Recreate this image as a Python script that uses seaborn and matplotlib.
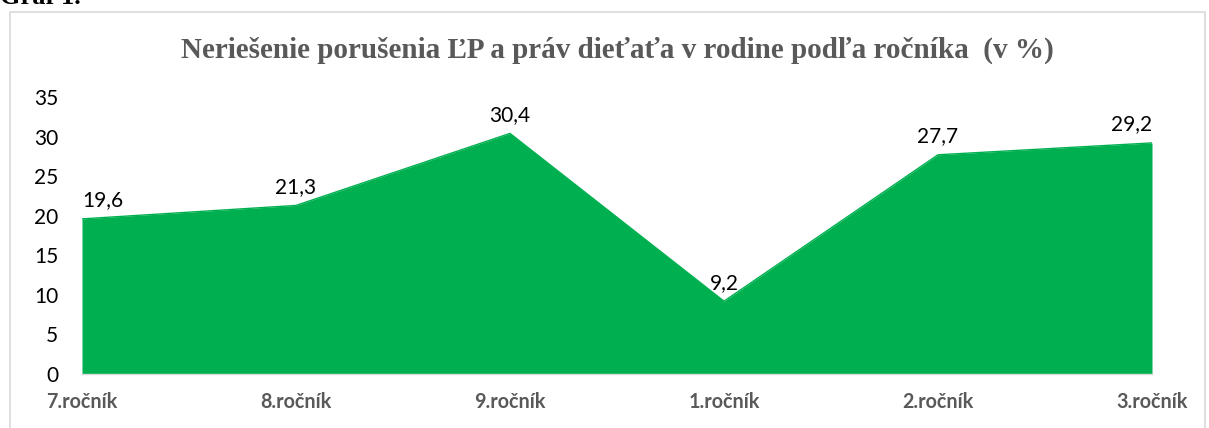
import matplotlib
matplotlib.use('Agg')
import matplotlib.pyplot as plt
import seaborn as sns
import numpy as np
import pandas as pd
from matplotlib.patches import Rectangle

# data
rocniky = ['7.ročník', '8.ročník', '9.ročník', '1.ročník', '2.ročník', '3.ročník']
hodnoty = [19.6, 21.3, 30.4, 9.2, 27.7, 29.2]
y_ticks = [0, 5, 10, 15, 20, 25, 30, 35]

title = 'Neriešenie porušenia ĽP a práv dieťaťa v rodine podľa ročníka  (v %)'

sns.set_theme(style='white')
plt.rcParams['font.family'] = ['Lato', 'DejaVu Sans']

df = pd.DataFrame({'rocnik': rocniky, 'hodnota': hodnoty})
df['pos'] = np.arange(len(df))

green = '#00B050'
gray_txt = '#595959'

fig = plt.figure(figsize=(12.09, 4.28), dpi=100)
ax = fig.add_axes([82 / 1209, 54 / 428, (1152 - 82) / 1209, (374 - 97) / 428])

ax.fill_between(df['pos'], df['hodnota'], 0, color=green, linewidth=0)
sns.lineplot(data=df, x='pos', y='hodnota', color=green, linewidth=1, ax=ax)

# data labels, the outer ones kept inside the plot area like Excel does
n = len(df)
for i, (x, v) in enumerate(zip(df['pos'], df['hodnota'])):
    ha = 'left' if i == 0 else ('right' if i == n - 1 else 'center')
    ax.annotate(f'{v:.1f}'.replace('.', ','), (x, v), xytext=(0, 6),
                textcoords='offset points', ha=ha, va='bottom',
                fontsize=15, color='black')

ax.set_xlim(0, n - 1)
ax.set_ylim(0, 35)
ax.set_yticks(y_ticks)
ax.set_yticklabels([str(t) for t in y_ticks], fontsize=15, color='black')
ax.set_xticks(df['pos'])
ax.set_xticklabels(rocniky, fontsize=14.2, fontweight='bold', color=gray_txt)
ax.tick_params(axis='x', length=6, width=1, color='#d9d9d9', pad=7, direction='out')
ax.tick_params(axis='y', length=0, pad=17)
ax.set_xlabel('')
ax.set_ylabel('')
for s in ['top', 'right', 'left']:
    ax.spines[s].set_visible(False)
ax.spines['bottom'].set_color('#d9d9d9')
ax.spines['bottom'].set_linewidth(1)

# chart area border
fig.patches.append(Rectangle((10 / 1209, -0.01), 1195 / 1209, (428 - 12) / 428 + 0.01,
                             transform=fig.transFigure, fill=False,
                             edgecolor='#d9d9d9', linewidth=1.2))

fig.text(617 / 1209, 1 - 50 / 428, title, ha='center', va='center',
         fontsize=21, fontweight='bold', color=gray_txt,
         family=['Liberation Serif', 'DejaVu Serif'])

# caption above the chart, cut off by the page edge as in the source
fig.text(0.5 / 1209, 1 - 4 / 428, 'Graf 1.', ha='left', va='baseline',
         fontsize=19, fontweight='bold', color='black',
         family=['Liberation Serif', 'DejaVu Serif'])

fig.savefig('out.png', dpi=100)
